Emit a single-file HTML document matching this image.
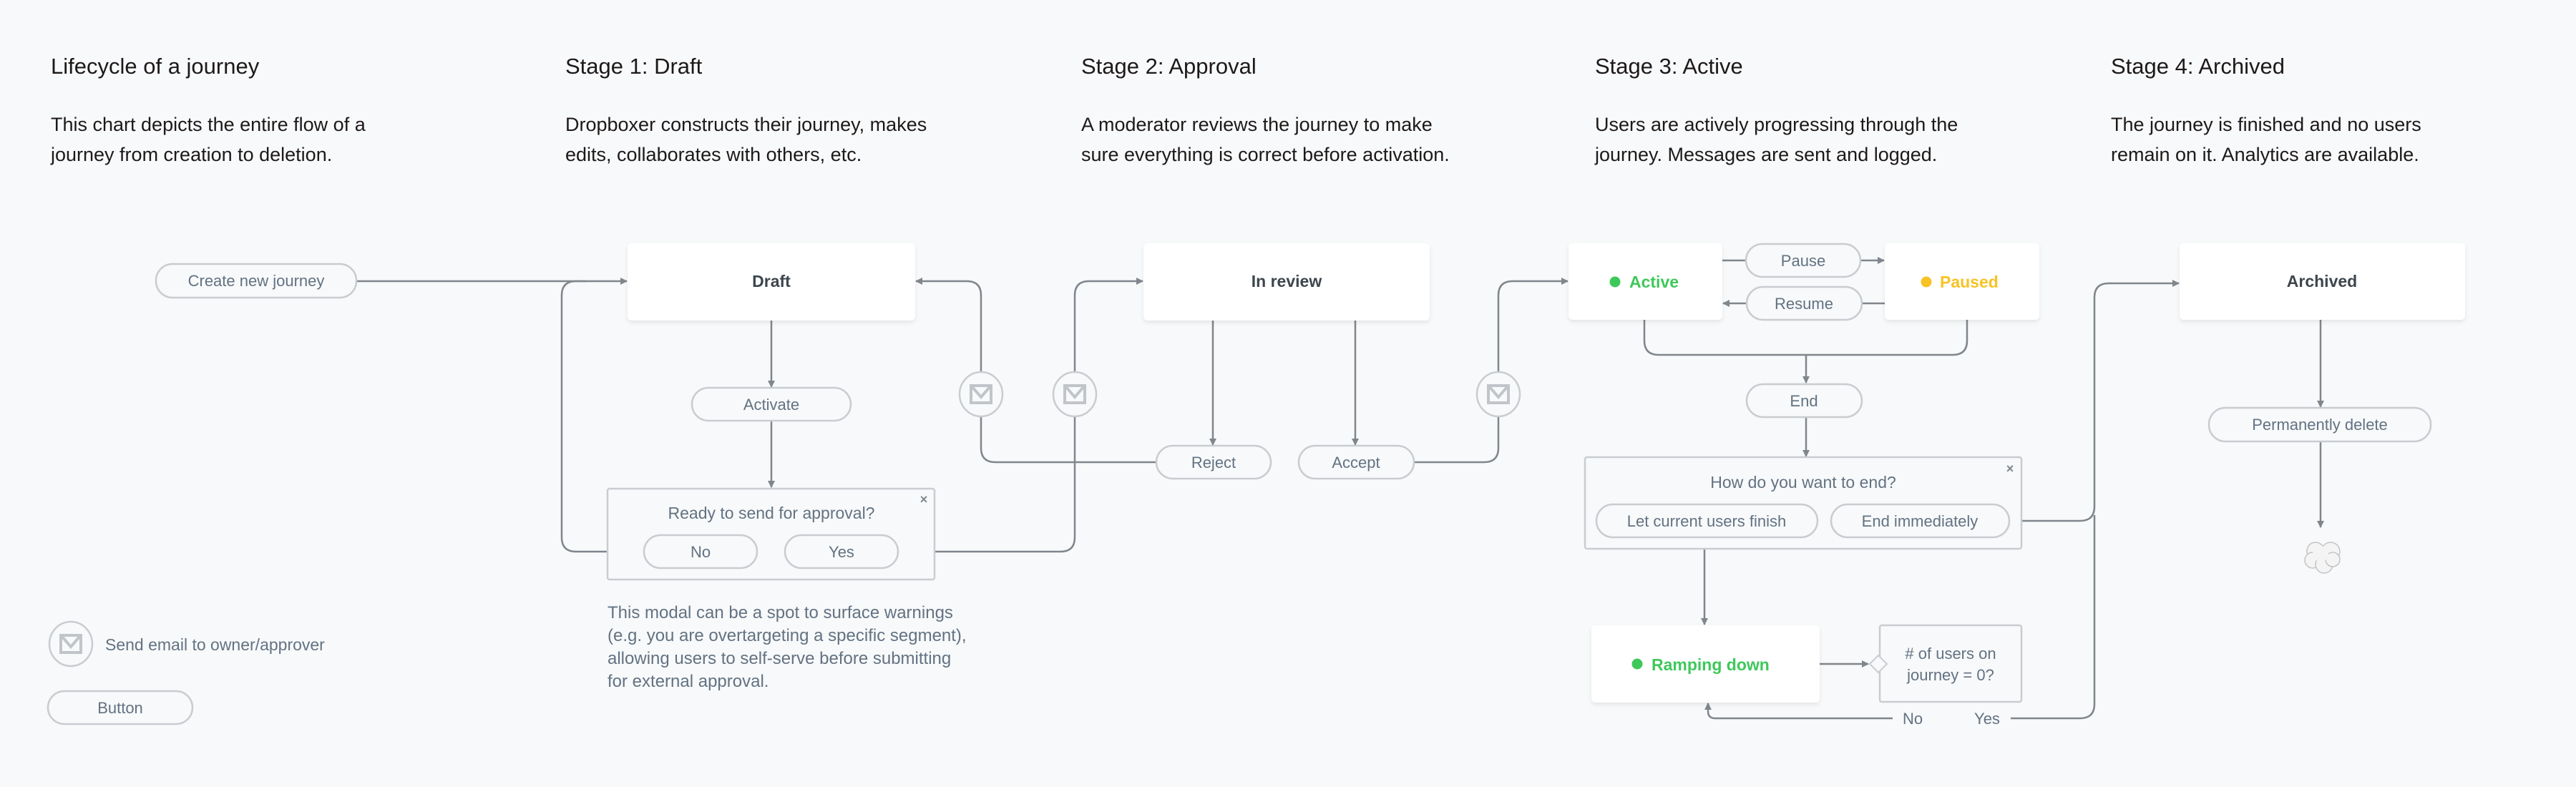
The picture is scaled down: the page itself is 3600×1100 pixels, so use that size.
<!DOCTYPE html>
<html><head><meta charset="utf-8"><style>
html,body{margin:0;padding:0;background:#f7f9fa;}
svg{display:block;}
text{font-family:"Liberation Sans",sans-serif;}
.t{font-size:31px;fill:#1e1919;}
.d{font-size:27px;fill:#1e1919;}
.p{font-size:22px;fill:#637282;text-anchor:middle;}
.n{font-size:23px;font-weight:bold;fill:#3d464d;text-anchor:middle;}
.ln{fill:none;stroke:#80868c;stroke-width:2.5;}
.pill{fill:#f7f9fa;stroke:#c9ccd0;stroke-width:2.5;}
.box{fill:#fff;filter:url(#sh);}
.modal{fill:#f7f9fa;stroke:#c9ccd0;stroke-width:2.5;}
</style></head><body>
<svg width="3600" height="1100" viewBox="0 0 3600 1100" xmlns="http://www.w3.org/2000/svg">
<defs>
<filter id="sh" x="-10%" y="-10%" width="120%" height="130%"><feDropShadow dx="0" dy="3" stdDeviation="3" flood-color="#000" flood-opacity="0.08"/></filter>
<marker id="a" markerWidth="10" markerHeight="10" refX="9" refY="5" orient="auto" markerUnits="userSpaceOnUse"><path d="M0,0 L10,5 L0,10 z" fill="#80868c"/></marker>
<g id="mail"><ellipse cx="0" cy="0" rx="30" ry="31" fill="#f7f9fa" stroke="#c9ccd0" stroke-width="2.5"/><rect x="-14" y="-12" width="28" height="24" fill="none" stroke="#c1c4c8" stroke-width="4"/><path d="M-13,-11 L0,4 L13,-11" fill="none" stroke="#c1c4c8" stroke-width="4"/></g>
</defs>

<!-- headers -->
<text class="t" x="71" y="103">Lifecycle of a journey</text>
<text class="d" x="71" y="183">This chart depicts the entire flow of a</text>
<text class="d" x="71" y="225">journey from creation to deletion.</text>
<text class="t" x="790" y="103">Stage 1: Draft</text>
<text class="d" x="790" y="183">Dropboxer constructs their journey, makes</text>
<text class="d" x="790" y="225">edits, collaborates with others, etc.</text>
<text class="t" x="1511" y="103">Stage 2: Approval</text>
<text class="d" x="1511" y="183">A moderator reviews the journey to make</text>
<text class="d" x="1511" y="225">sure everything is correct before activation.</text>
<text class="t" x="2229" y="103">Stage 3: Active</text>
<text class="d" x="2229" y="183">Users are actively progressing through the</text>
<text class="d" x="2229" y="225">journey. Messages are sent and logged.</text>
<text class="t" x="2950" y="103">Stage 4: Archived</text>
<text class="d" x="2950" y="183">The journey is finished and no users</text>
<text class="d" x="2950" y="225">remain on it. Analytics are available.</text>

<!-- connectors -->
<path class="ln" d="M498,393 H876" marker-end="url(#a)"/>
<path class="ln" d="M900,771 H805 Q785,771 785,751 V413 Q785,393 805,393 H820"/>
<path class="ln" d="M1078,448 V541" marker-end="url(#a)"/>
<path class="ln" d="M1078,588 V681" marker-end="url(#a)"/>
<path class="ln" d="M1256,771 H1482 Q1502,771 1502,751 V413 Q1502,393 1522,393 H1597" marker-end="url(#a)"/>
<path class="ln" d="M1616,646 H1391 Q1371,646 1371,626 V413 Q1371,393 1351,393 H1280" marker-end="url(#a)"/>
<path class="ln" d="M1695,448 V622" marker-end="url(#a)"/>
<path class="ln" d="M1894,448 V622" marker-end="url(#a)"/>
<path class="ln" d="M1976,646 H2074 Q2094,646 2094,626 V413 Q2094,393 2114,393 H2191" marker-end="url(#a)"/>
<path class="ln" d="M2407,364 H2440"/>
<path class="ln" d="M2600,364 H2633" marker-end="url(#a)"/>
<path class="ln" d="M2634,424 H2602"/>
<path class="ln" d="M2441,424 H2408" marker-end="url(#a)"/>
<path class="ln" d="M2298,447 V476 Q2298,496 2318,496 H2729 Q2749,496 2749,476 V447"/>
<path class="ln" d="M2524,496 V535" marker-end="url(#a)"/>
<path class="ln" d="M2524,583 V638" marker-end="url(#a)"/>
<path class="ln" d="M2808,728 H2907 Q2927,728 2927,708 V416 Q2927,396 2947,396 H3045" marker-end="url(#a)"/>
<path class="ln" d="M2810,1004 H2907 Q2927,1004 2927,984 V720"/>
<path class="ln" d="M2382,751 V873" marker-end="url(#a)"/>
<path class="ln" d="M2543,928 H2611" marker-end="url(#a)"/>
<path class="ln" d="M2645,1004 H2397 Q2387,1004 2387,994 V983" marker-end="url(#a)"/>
<path class="ln" d="M3243,447 V569" marker-end="url(#a)"/>
<path class="ln" d="M3243,617 V737" marker-end="url(#a)"/>

<!-- mail icons -->
<use href="#mail" x="1371" y="551"/>
<use href="#mail" x="1502" y="551"/>
<use href="#mail" x="2094" y="551"/>

<!-- Stage 1 -->
<rect class="pill" x="218" y="369" width="280" height="47" rx="23"/>
<text class="p" x="358" y="400">Create new journey</text>
<rect class="box" x="877" y="340" width="402" height="108" rx="6"/>
<text class="n" x="1078" y="401">Draft</text>
<rect class="pill" x="967" y="542" width="222" height="46" rx="23"/>
<text class="p" x="1078" y="573">Activate</text>
<rect class="modal" x="849" y="683" width="457" height="127" rx="3"/>
<text class="p" x="1078" y="725" style="font-size:23px">Ready to send for approval?</text>
<text x="1291" y="704" style="font-size:18px;fill:#80868c;font-weight:bold;text-anchor:middle">×</text>
<rect class="pill" x="900" y="748" width="158" height="46" rx="23"/>
<text class="p" x="979" y="779">No</text>
<rect class="pill" x="1097" y="748" width="158" height="46" rx="23"/>
<text class="p" x="1176" y="779">Yes</text>
<text class="d" x="849" y="864" style="font-size:24px;fill:#637282">This modal can be a spot to surface warnings</text>
<text class="d" x="849" y="896" style="font-size:24px;fill:#637282">(e.g. you are overtargeting a specific segment),</text>
<text class="d" x="849" y="928" style="font-size:24px;fill:#637282">allowing users to self-serve before submitting</text>
<text class="d" x="849" y="960" style="font-size:24px;fill:#637282">for external approval.</text>

<!-- legend -->
<use href="#mail" x="99" y="900"/>
<text x="147" y="909" style="font-size:23px;fill:#637282">Send email to owner/approver</text>
<rect class="pill" x="67" y="966" width="202" height="46" rx="23"/>
<text class="p" x="168" y="997">Button</text>

<!-- Stage 2 -->
<rect class="box" x="1598" y="340" width="400" height="108" rx="6"/>
<text class="n" x="1798" y="401">In review</text>
<rect class="pill" x="1616" y="623" width="160" height="46" rx="23"/>
<text class="p" x="1696" y="654">Reject</text>
<rect class="pill" x="1815" y="623" width="161" height="46" rx="23"/>
<text class="p" x="1895" y="654">Accept</text>

<!-- Stage 3 -->
<rect class="box" x="2192" y="340" width="215" height="107" rx="6"/>
<circle cx="2257" cy="394" r="7.5" fill="#3ec85a"/>
<text x="2277" y="402" style="font-size:23px;font-weight:bold;fill:#3ec85a">Active</text>
<rect class="box" x="2634" y="340" width="216" height="107" rx="6"/>
<circle cx="2692" cy="394" r="7.5" fill="#f7c325"/>
<text x="2711" y="402" style="font-size:23px;font-weight:bold;fill:#f7c325">Paused</text>
<rect class="pill" x="2440" y="341" width="160" height="46" rx="23"/>
<text class="p" x="2520" y="372">Pause</text>
<rect class="pill" x="2441" y="401" width="161" height="46" rx="23"/>
<text class="p" x="2521" y="432">Resume</text>
<rect class="pill" x="2441" y="537" width="161" height="46" rx="23"/>
<text class="p" x="2521" y="568">End</text>
<rect class="modal" x="2215" y="639" width="610" height="128" rx="3"/>
<text class="p" x="2520" y="682" style="font-size:23px">How do you want to end?</text>
<text x="2809" y="661" style="font-size:18px;fill:#80868c;font-weight:bold;text-anchor:middle">×</text>
<rect class="pill" x="2231" y="705" width="309" height="46" rx="23"/>
<text class="p" x="2385" y="736">Let current users finish</text>
<rect class="pill" x="2559" y="705" width="249" height="46" rx="23"/>
<text class="p" x="2683" y="736">End immediately</text>
<rect class="box" x="2224" y="874" width="319" height="108" rx="6"/>
<circle cx="2288" cy="928" r="7.5" fill="#3ec85a"/>
<text x="2308" y="937" style="font-size:23px;font-weight:bold;fill:#3ec85a">Ramping down</text>
<rect class="modal" x="2627" y="874" width="198" height="107" rx="3"/>
<path d="M2613,928 L2625,916 L2637,928 L2625,940 Z" fill="#f7f9fa" stroke="#c9ccd0" stroke-width="2"/>
<text class="p" x="2726" y="921">
# of users on</text>
<text class="p" x="2726" y="951">journey = 0?</text>
<text class="p" x="2673" y="1012">No</text>
<text class="p" x="2777" y="1012">Yes</text>

<!-- Stage 4 -->
<rect class="box" x="3046" y="340" width="399" height="107" rx="6"/>
<text class="n" x="3245" y="401">Archived</text>
<rect class="pill" x="3087" y="570" width="310" height="47" rx="23"/>
<text class="p" x="3242" y="601">Permanently delete</text>
<g fill="#f4f4f4" stroke="#c4c4c4" stroke-width="1.5">
<circle cx="3257" cy="771" r="13"/>
<circle cx="3236" cy="770" r="12"/>
<circle cx="3232" cy="783" r="11"/>
<circle cx="3248" cy="789" r="12"/>
<circle cx="3260" cy="782" r="10"/>
<circle cx="3243" cy="774" r="11" stroke="none"/>
</g>
</svg>
</body></html>
